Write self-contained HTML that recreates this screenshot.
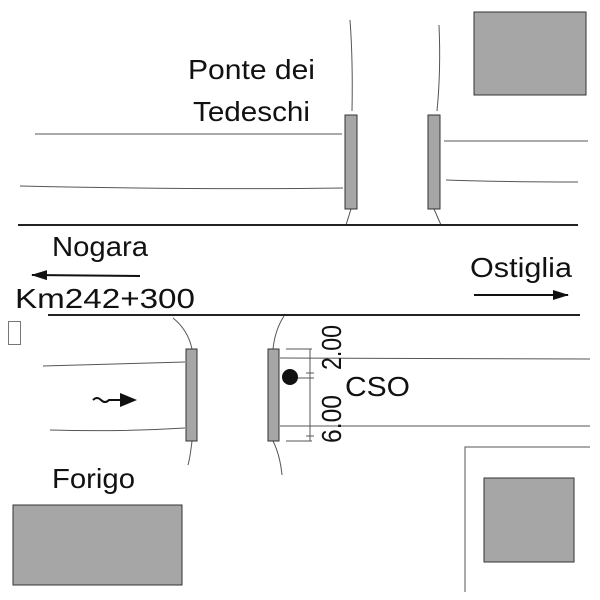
<!DOCTYPE html>
<html><head><style>body{margin:0;background:#fff}svg{display:block}text{font-family:"Liberation Sans",sans-serif;fill:#111}</style></head><body>
<svg width="600" height="600" viewBox="0 0 600 600" xmlns="http://www.w3.org/2000/svg">
<defs><marker id="ah" markerWidth="16" markerHeight="10" refX="15" refY="5" orient="auto" markerUnits="userSpaceOnUse"><path d="M0,0 L16,5 L0,10z" fill="#111"/></marker></defs>
<g fill="none" stroke="#555" stroke-width="1">
<path d="M35,134 L342,134"/><path d="M20,186 Q200,190 343,188"/>
<path d="M444,141 L588,141"/><path d="M446,180 Q500,182 578,182"/>
<path d="M350,20 Q353,60 352,111"/><path d="M439,25 Q441,70 437,111"/>
<path d="M351,209 L346,225"/><path d="M434,209 L441,225"/>
<path d="M43,366 Q120,364 185,362"/><path d="M50,430 Q120,432 185,428"/>
<path d="M280,358 L590,359"/><path d="M280,426 L590,426"/>
<path d="M173,318 Q188,330 192,349"/><path d="M284,316 Q275,330 273,349"/>
<path d="M192,441 Q190,458 188,465"/><path d="M273,441 Q280,455 282,475"/>
<path d="M286,349 L312,349 M286,441 L312,441 M310,349 L310,441 M306,373 L314,373 M306,378 L314,378 M306,436 L314,436 M290,378 L312,378"/>
<path d="M465,592 L465,447 L590,447"/>
</g>
<g stroke="#222" stroke-width="2"><path d="M18,225 L578,225"/><path d="M48,315 L580,315"/></g>
<g fill="#a6a6a6" stroke="#333" stroke-width="1">
<rect x="345" y="115" width="12" height="94"/><rect x="428" y="115" width="12" height="94"/>
<rect x="186" y="349" width="11" height="92"/><rect x="268" y="349" width="11" height="92"/>
<rect x="474" y="12" width="112" height="83"/><rect x="484" y="478" width="90" height="84"/><rect x="13" y="505" width="169" height="80"/>
</g>
<rect x="8.5" y="321.5" width="12" height="23" fill="none" stroke="#777"/>
<circle cx="290" cy="377" r="8" fill="#111"/>
<path d="M140,276 L32,275" stroke="#111" stroke-width="2" marker-end="url(#ah)"/>
<path d="M474,295 L568,295" stroke="#111" stroke-width="2" marker-end="url(#ah)"/>
<path d="M93,400 q4,-4 8,0 q4,4 8,0 L124,400" stroke="#111" stroke-width="2" fill="none"/>
<path d="M120,393 L137,400 L120,407z" fill="#111"/>
<g font-size="28">
<text x="188" y="79" textLength="127" lengthAdjust="spacingAndGlyphs">Ponte dei</text>
<text x="193" y="121" textLength="117" lengthAdjust="spacingAndGlyphs">Tedeschi</text>
<text x="52" y="256" textLength="96" lengthAdjust="spacingAndGlyphs">Nogara</text>
<text x="15" y="308" textLength="180" lengthAdjust="spacingAndGlyphs">Km242+300</text>
<text x="470" y="277" textLength="102" lengthAdjust="spacingAndGlyphs">Ostiglia</text>
<text x="345" y="396" textLength="65" lengthAdjust="spacingAndGlyphs">CSO</text>
<text x="52" y="488" textLength="83" lengthAdjust="spacingAndGlyphs">Forigo</text>
<text transform="translate(341,370) rotate(-90)" textLength="45" lengthAdjust="spacingAndGlyphs">2.00</text>
<text transform="translate(341,443) rotate(-90)" textLength="48" lengthAdjust="spacingAndGlyphs">6.00</text>
</g>
</svg>
</body></html>
